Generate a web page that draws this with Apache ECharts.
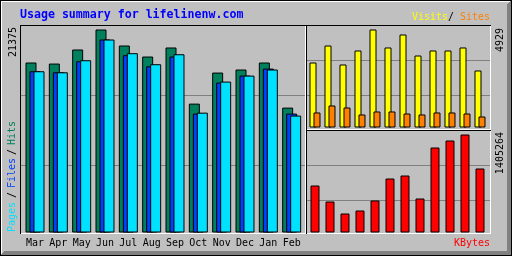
<!DOCTYPE html>
<html><head><meta charset="utf-8">
<script src="https://cdn.jsdelivr.net/npm/echarts@6/dist/echarts.min.js"></script>
<style>html,body{margin:0;padding:0;background:#c0c0c0}#c{width:512px;height:256px}</style>
</head><body><div id="c"></div><script>
const months = ['Mar','Apr','May','Jun','Jul','Aug','Sep','Oct','Nov','Dec','Jan','Feb'];
const hits   = [17900,17790,19270,21375,19690,18530,19480,13570,16840,17160,17900,13150];
const files  = [16980,16870,18030,20320,18670,17500,18530,12520,15790,16520,17260,12520];
const pages  = [16980,16870,18140,20320,18880,17720,18770,12620,15890,16520,17160,12310];
const visits = [3269,4124,3169,3873,4929,4024,4677,3621,3873,3873,4024,2867];
const sites  = [755,1107,1006,654,805,805,704,654,755,755,704,553];
const kbytes = [673946,444516,272445,315463,458855,774318,817335,487533,1218829,1319203,1405264,917708];
const maxLabels = ['21375','4929','1405264'];

const C = {bg:'#c0c0c0', dk:'#808080', hits:'#00805c', files:'#0040ff', pages:'#00e0ff',
  visits:'#ffff00', sites:'#ff8000', kbytes:'#ff0000'};
const MONO = '"DejaVu Sans Mono", "Liberation Mono", monospace';
const chart = echarts.init(document.getElementById('c'), null, {renderer:'canvas'});

function gridAxisY(i){
  return {gridIndex:i, type:'value', min:0, max:3, interval:1,
    axisLine:{show:false}, axisTick:{show:false}, axisLabel:{show:false},
    splitLine:{show:true, showMinLine:false, showMaxLine:false, lineStyle:{color:C.dk, width:1}}};
}
function gridAxisX(i){
  return {gridIndex:i, type:'value', min:0, max:1, axisLine:{show:false}, axisTick:{show:false},
    axisLabel:{show:false}, splitLine:{show:false}};
}
function catAxis(i, showLabel){
  return {gridIndex:i, type:'category', data:months, boundaryGap:true,
    axisLine:{show:false}, axisTick:{show:false}, splitLine:{show:false},
    axisLabel:{show:showLabel, interval:0, color:'#000', fontFamily:MONO, fontSize:10, margin:6}};
}
function valAxis(i, max){
  return {gridIndex:i, type:'value', min:0, max:max, show:false};
}
function bar(name, data, ax, color, w, gap){
  return {name, type:'bar', data, xAxisIndex:ax, yAxisIndex:ax, barWidth:w, barGap:gap,
    itemStyle:{color, borderColor:'#000', borderWidth:1}, silent:true};
}
function rect(x,y,w,h,fill){ return {type:'rect', shape:{x,y,width:w,height:h}, style:{fill}, silent:true, z:100}; }
function txt(text, x, y, fill, opts){
  opts = opts || {};
  const st = {text, x:0, y:0, fill, font:(opts.bold?'bold ':'')+(opts.size||10)+'px '+MONO,
    textAlign:opts.align||'left', textVerticalAlign:'middle', align:opts.align||'left', verticalAlign:'middle'};
  if (opts.shadow) { st.textShadowColor = C.dk; st.textShadowOffsetX = 1; st.textShadowOffsetY = 1; st.textShadowBlur = 0; }
  return {type:'text', x, y, rotation:opts.rot||0, style:st, silent:true, z:110};
}

const g = [];
// outer 3D border
g.push(rect(0,0,512,1,'#000'), rect(0,0,1,256,'#000'), rect(0,255,512,1,'#000'), rect(511,0,1,256,'#000'));
g.push(rect(1,1,510,1,'#fff'), rect(1,1,1,254,'#fff'));
for (let i=1;i<=4;i++){ g.push(rect(i,255-i,511-2*i+1,1,C.dk), rect(511-i,i,1,255-2*i+1,C.dk)); }
// panels: [x0,y0,x1,y1]
[[20,25,305,233],[306,25,490,129],[306,130,490,233]].forEach(p=>{
  const [x0,y0,x1,y1]=p;
  g.push(rect(x0,y0,x1-x0+1,1,'#000'), rect(x0,y0,1,y1-y0+1,'#000'));
  g.push(rect(x0+1,y1,x1-x0,1,'#fff'), rect(x1,y0+1,1,y1-y0,'#fff'));
});
// texts
g.push(txt('Usage summary for lifelinenw.com', 20, 15, '#0000ff', {bold:true, size:11.6}));
g.push(txt('Visits', 412, 17, C.visits, {shadow:true}));
g.push(txt('/', 451, 17, '#000', {shadow:true, align:'center'}));
g.push(txt('Sites', 460, 17, C.sites, {shadow:true}));
g.push(txt('KBytes', 490, 243, C.kbytes, {shadow:true, align:'right'}));
const R = Math.PI/2;
g.push(txt('Pages', 12, 232, C.pages, {shadow:true, rot:R}));
g.push(txt('/', 12, 195, '#000', {shadow:true, rot:R, align:'center'}));
g.push(txt('Files', 12, 188, C.files, {shadow:true, rot:R}));
g.push(txt('/', 12, 152, '#000', {shadow:true, rot:R, align:'center'}));
g.push(txt('Hits', 12, 145, C.hits, {shadow:true, rot:R}));
g.push(txt(maxLabels[0], 13, 27, '#000', {rot:R, align:'right'}));
g.push(txt(maxLabels[1], 500, 28, '#000', {rot:R, align:'right'}));
g.push(txt(maxLabels[2], 500, 132, '#000', {rot:R, align:'right'}));

chart.setOption({
  animation:false,
  backgroundColor:C.bg,
  grid:[
    {left:21, right:207, top:25.5, bottom:20.5},
    {left:23.333, right:208.667, top:29.5, bottom:23.5},
    {left:307, right:22, top:25.5, bottom:125.5},
    {left:307.5, right:24.5, top:29.5, bottom:128.5},
    {left:307, right:22, top:130.5, bottom:20.5},
    {left:307.5, right:24.5, top:134.5, bottom:23.5}
  ],
  xAxis:[gridAxisX(0), catAxis(1,true), gridAxisX(2), catAxis(3,false), gridAxisX(4), catAxis(5,false)],
  yAxis:[gridAxisY(0), valAxis(1, Number(maxLabels[0])), gridAxisY(2), valAxis(3, Number(maxLabels[1])),
         gridAxisY(4), valAxis(5, Number(maxLabels[2]))],
  series:[
    bar('Hits', hits, 1, C.hits, 11, '-63.64%'),
    bar('Files', files, 1, C.files, 11, '-63.64%'),
    bar('Pages', pages, 1, C.pages, 11, '-63.64%'),
    bar('Visits', visits, 3, C.visits, 7, '-42.86%'),
    bar('Sites', sites, 3, C.sites, 7, '-42.86%'),
    bar('KBytes', kbytes, 5, C.kbytes, 9, '0%')
  ],
  graphic:g
});
</script></body></html>
